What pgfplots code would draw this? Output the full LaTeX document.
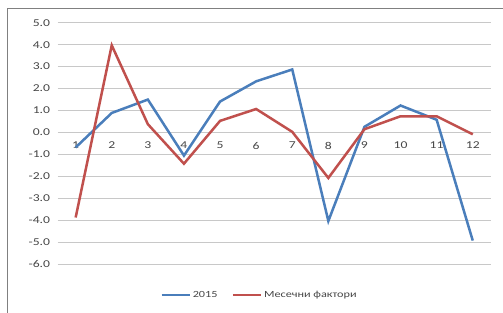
\documentclass[border=0pt]{standalone}
\usepackage{pgfplots}
\pgfplotsset{compat=1.18}
\usepackage{fontspec}
\setmainfont{Carlito}[FakeStretch=1.3]
\definecolor{sblue}{RGB}{74,126,187}
\definecolor{sred}{RGB}{192,80,77}
\definecolor{gridc}{RGB}{200,200,200}
\definecolor{txt}{RGB}{70,70,70}
\begin{document}
\begin{tikzpicture}[x=1pt,y=1pt]
\useasboundingbox (0,0) rectangle (503,313);
\draw[color=black!50, line width=0.9pt] (7.5,0) -- (7.5,305) -- (503,305);
\begin{axis}[
  at={(57.6pt,48.7pt)}, anchor=south west,
  scale only axis, width=433.2pt, height=241.6pt,
  xmin=0.5, xmax=12.5, ymin=-6, ymax=5,
  axis x line=middle, axis y line=left,
  axis line style={draw=none,-},
  xtick={1,...,12}, ytick={-6,-5,...,5},
  major tick length=0pt,
  ymajorgrids, grid style={gridc, line width=0.9pt},
  /pgf/number format/assume math mode=true,
  /pgf/number format/.cd, fixed, fixed zerofill, precision=1, /pgfplots/.cd,
  yticklabel style={font=\fontsize{10.5}{12}\selectfont, text=txt, xshift=-4pt},
  xticklabel style={font=\fontsize{10.5}{12}\selectfont, text=txt, yshift=-6pt},
  xticklabel={\pgfmathprintnumber[fixed,precision=0]{\tick}},
  clip=false,
  legend style={draw=none, at={(0.466,-0.127)}, anchor=center,
    font=\fontsize{9.4}{11}\selectfont, text=txt, fill=none},
  legend columns=2,
  legend image code/.code={\draw[#1] (0pt,0pt) -- (28pt,0pt);},
  /tikz/every even column/.append style={column sep=12pt},
]
\addplot[sblue, line width=2.5pt] coordinates {
 (1,-0.68) (2,0.89) (3,1.5) (4,-1.05) (5,1.41) (6,2.33) (7,2.87) (8,-4.03) (9,0.26) (10,1.23) (11,0.58) (12,-4.92)};
\addlegendentry{2015}
\addplot[sred, line width=2.5pt] coordinates {
 (1,-3.87) (2,3.97) (3,0.38) (4,-1.42) (5,0.53) (6,1.07) (7,0.03) (8,-2.07) (9,0.15) (10,0.74) (11,0.74) (12,-0.08)};
\addlegendentry{Месечни фактори}
\end{axis}
\end{tikzpicture}
\end{document}
